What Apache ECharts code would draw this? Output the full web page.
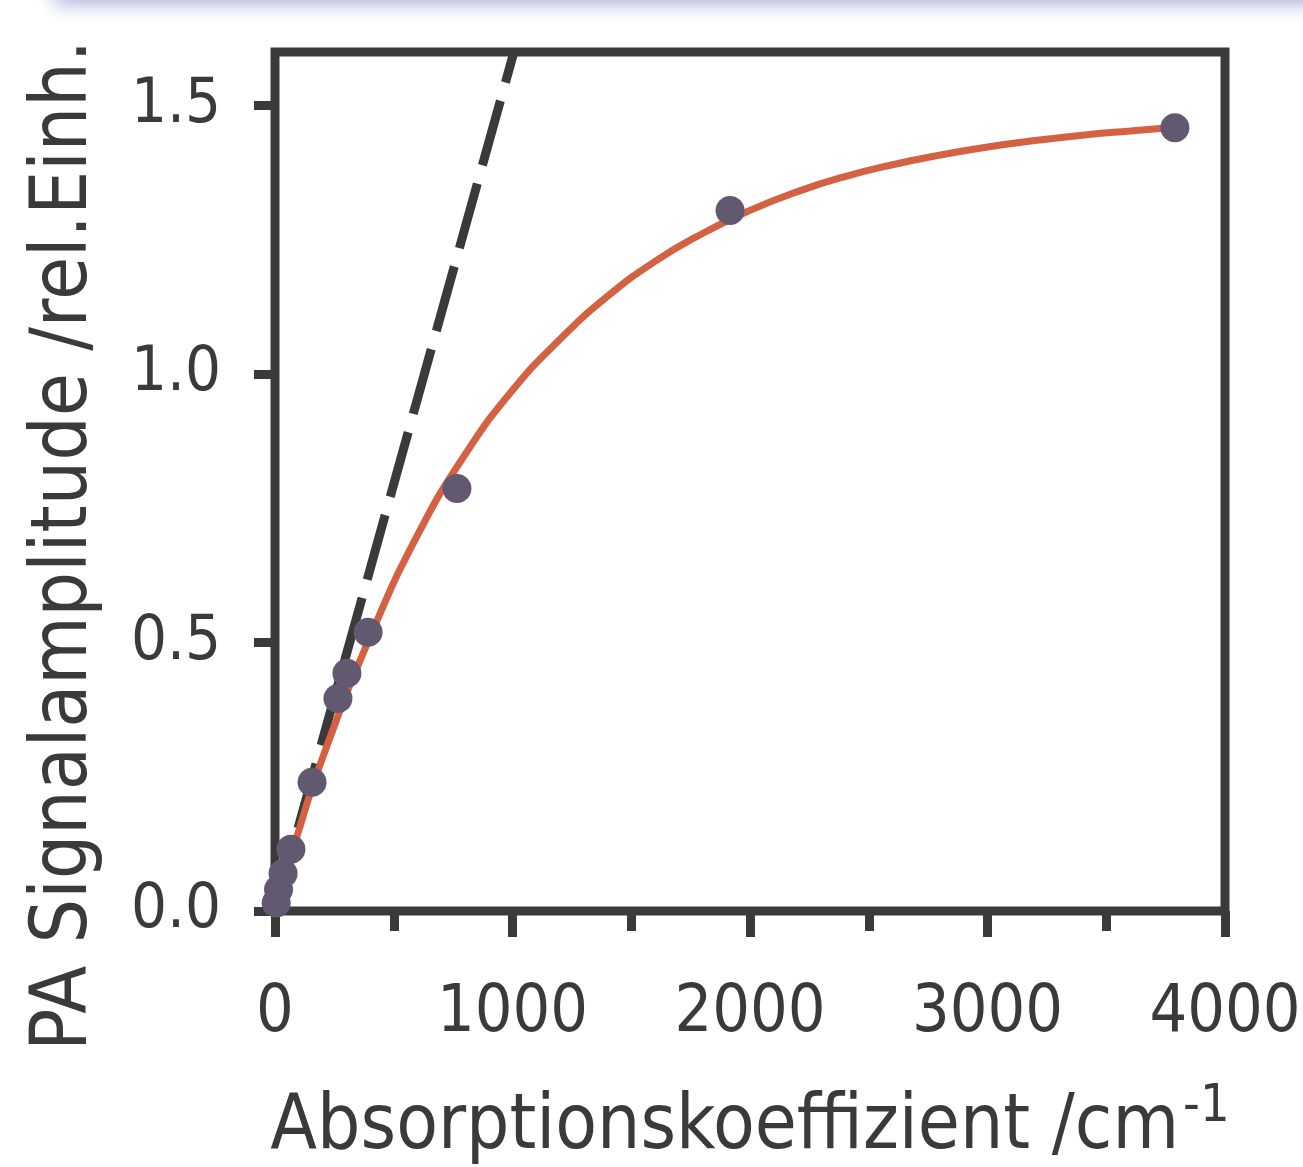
<!DOCTYPE html>
<html>
<head>
<meta charset="utf-8">
<script src="https://cdn.jsdelivr.net/npm/echarts@6/dist/echarts.min.js"></script>
<style>
  html, body { margin: 0; padding: 0; background: #fff; overflow: hidden; }
  #chart { width: 1303px; height: 1167px; }
</style>
</head>
<body>
<div id="chart"></div>
<script>
// measured points
const pointX = [5, 15, 34, 67, 156, 265, 303, 392, 766, 1916, 3789]
const pointY = [0.015, 0.04, 0.07, 0.115, 0.24, 0.396, 0.443, 0.519, 0.787, 1.305, 1.459]
// fitted curve (orange)
const curveX = [0, 100, 200, 400, 600, 800, 1000, 1200, 1400, 1600, 1800, 2000, 2200, 2400, 2600, 2800, 3000, 3200, 3400, 3600, 3789]
const curveY = [0, 0.15, 0.285, 0.51, 0.70, 0.85, 0.97, 1.065, 1.145, 1.21, 1.262, 1.305, 1.34, 1.368, 1.39, 1.408, 1.423, 1.435, 1.445, 1.453, 1.46]
// initial slope (dashed)
const slopeX = [0, 1006]
const slopeY = [0, 1.6]
const yTicks = [0, 0.5, 1.0, 1.5]

const dark = '#3a3a3a'
const font = '"DejaVu Sans Condensed", "Liberation Sans Narrow", "DejaVu Sans", sans-serif'
const zip = (xs, ys) => xs.map((x, i) => [x, ys[i]])

const chart = echarts.init(document.getElementById('chart'))
chart.setOption({
  animation: false,
  graphic: [{
    type: 'rect',
    shape: { x: 55, y: -30, width: 1300, height: 30 },
    style: { fill: '#c3c7e8', shadowBlur: 20, shadowColor: '#a9afdc', shadowOffsetY: 4 },
    silent: true
  }],
  grid: {
    left: 275, right: 78, top: 52, bottom: 256,
    outerBoundsMode: 'none',
    show: true, borderColor: dark, borderWidth: 9, backgroundColor: 'transparent'
  },
  xAxis: {
    type: 'value',
    min: 0, max: 4000, interval: 1000,
    axisLine: { show: false },
    splitLine: { show: false },
    axisTick: { show: true, inside: false, length: 26, lineStyle: { color: dark, width: 9 } },
    minorTick: { show: true, splitNumber: 2, length: 20, lineStyle: { color: dark, width: 9 } },
    axisLabel: { color: dark, fontSize: 66, fontFamily: font, margin: 70, formatter: (v) => String(v) },
    name: 'Absorptionskoeffizient /cm{sup|-1}',
    nameLocation: 'middle',
    nameGap: 170,
    nameTextStyle: {
      color: dark, fontSize: 76, fontFamily: font,
      rich: { sup: { color: dark, fontSize: 52, fontFamily: font, verticalAlign: 'top', padding: [0, 0, 42, 4] } }
    }
  },
  yAxis: {
    type: 'value',
    min: 0, max: 1.6, interval: 0.5,
    axisLine: { show: false },
    splitLine: { show: false },
    axisTick: { show: true, inside: false, length: 21, customValues: yTicks, lineStyle: { color: dark, width: 9 } },
    axisLabel: {
      color: dark, fontSize: 63, fontFamily: font, margin: 54,
      customValues: yTicks,
      formatter: (v) => v.toFixed(1)
    },
    name: 'PA Signalamplitude /rel.Einh.',
    nameLocation: 'middle',
    nameGap: 170,
    nameTextStyle: { color: dark, fontSize: 78, fontFamily: font, padding: [0, 128, 0, 0] }
  },
  series: [{
    type: 'line',
    data: zip(slopeX, slopeY),
    symbol: 'none',
    lineStyle: { color: dark, width: 9, type: [67, 19] },
    z: 2
  }, {
    type: 'line',
    data: zip(curveX, curveY),
    symbol: 'none',
    smooth: 0.5,
    lineStyle: { color: '#d46141', width: 7 },
    z: 3
  }, {
    type: 'scatter',
    data: zip(pointX, pointY),
    symbolSize: 29,
    itemStyle: { color: '#625870', opacity: 1 },
    z: 4
  }]
})
</script>
</body>
</html>
